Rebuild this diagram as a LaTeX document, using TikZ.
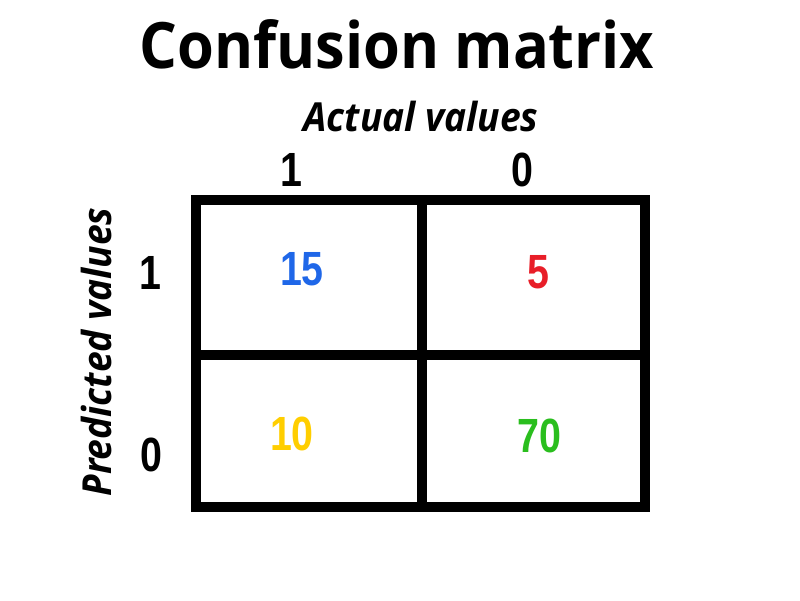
\documentclass[tikz,border=0pt]{standalone}
\usepackage{fontspec}
\setmainfont{Open Sans}[FakeStretch=0.93]
\newfontfamily\numfont[FakeStretch=0.82]{Liberation Sans}
\definecolor{cblue}{RGB}{31,103,232}
\definecolor{cred}{RGB}{232,30,40}
\definecolor{cyellow}{RGB}{255,206,0}
\definecolor{cgreen}{RGB}{42,190,30}
\begin{document}
\begin{tikzpicture}[x=1pt,y=-1pt,
  gridline/.style={line width=10pt,line join=miter},
  num/.style={font=\numfont\bfseries\fontsize{48}{48}\selectfont,inner sep=0pt},
  lab/.style={font=\bfseries\itshape\fontsize{40}{40}\selectfont,inner sep=0pt,anchor=base}]
\useasboundingbox (0,0) rectangle (800,600);
% title and axis labels
\node[font=\bfseries\fontsize{64}{64}\selectfont,inner sep=0pt,anchor=base] (title) at (397,68) {Confusion matrix};
\node[lab] (actual) at (421,131) {Actual values};
\node[lab,rotate=90] (pred) at (111,352) {Predicted values};
% header digits
\node[num] (c1) at (291,170) {1};
\node[num] (c0) at (522,170) {0};
\node[num] (r1) at (150,273) {1};
\node[num] (r0) at (151,455) {0};
% grid
\draw[gridline] (196,200) rectangle (645,507);
\draw[gridline] (422,200) -- (422,507);
\draw[gridline] (196,355) -- (645,355);
% cells
\node[num,text=cblue] (tp) at (302,269) {15};
\node[num,text=cred] (fp) at (538,272) {5};
\node[num,text=cyellow] (fn) at (292,434) {10};
\node[num,text=cgreen] (tn) at (539,436) {70};
\end{tikzpicture}
\end{document}
